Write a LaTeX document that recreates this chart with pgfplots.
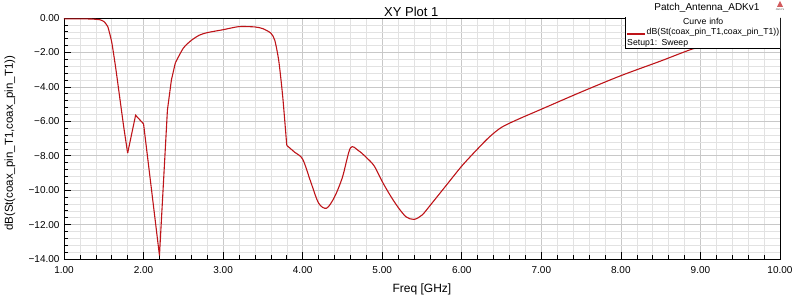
\documentclass[border=0pt]{standalone}
\usepackage{pgfplots}
\pgfplotsset{compat=1.18}
\usepackage{fontspec}
\setmainfont{Liberation Sans}
\definecolor{curvered}{RGB}{190,20,25}
\definecolor{majgrid}{RGB}{200,200,200}
\definecolor{mingrid}{RGB}{226,226,226}
\begin{document}
\begin{tikzpicture}
\begin{axis}[
  scale only axis,
  width=716pt, height=241pt,
  xmin=1, xmax=10, ymin=-14, ymax=0,
  xtick={1,2,...,10}, ytick={-14,-12,...,0},
  xticklabels={1.00,2.00,3.00,4.00,5.00,6.00,7.00,8.00,9.00,10.00},
  yticklabels={−14.00,−12.00,−10.00,−8.00,−6.00,−4.00,−2.00,0.00},
  minor x tick num=4, minor y tick num=4,
  grid=both,
  major grid style={majgrid, line width=0.6pt},
  minor grid style={mingrid, line width=0.5pt},
  axis line style={black, line width=0.8pt},
  tick style={black, line width=0.6pt},
  major tick length=7pt, minor tick length=4pt,
  xtick pos=bottom, ytick pos=left,
  xticklabel style={font=\fontsize{10}{11}\selectfont, yshift=-4pt},
  yticklabel style={font=\fontsize{10}{11}\selectfont, xshift=-1pt},
  xlabel={Freq [GHz]},
  ylabel={dB(St(coax\_pin\_T1,coax\_pin\_T1))},
  xlabel style={font=\fontsize{12}{13}\selectfont, at={(axis description cs:0.5,-0.125)}, anchor=center},
  ylabel style={font=\fontsize{11.5}{12}\selectfont, at={(axis description cs:-0.0755,0.48)}, anchor=center},
  title={XY Plot 1},
  title style={font=\fontsize{13}{14}\selectfont, at={(axis description cs:0.485,1.0)}, anchor=center, yshift=0pt},
  clip=true,
]
\addplot[curvered, line width=1.1pt, smooth, tension=0.3] coordinates {
(1.0,-0.05) (1.2,-0.05) (1.35,-0.06) (1.45,-0.1) (1.5,-0.2) (1.55,-0.5) (1.6,-1.4)
(1.65,-2.9) (1.7,-4.6) (1.75,-6.3) (1.8,-7.85)
};
\addplot[curvered, line width=1.1pt] coordinates {
(1.8,-7.85) (1.9,-5.65) (2.0,-6.15) (2.2,-13.8) (2.3,-5.35) (2.35,-3.6) (2.4,-2.6)
};
\addplot[curvered, line width=1.1pt, smooth, tension=0.4] coordinates {
(2.4,-2.6) (2.5,-1.75) (2.6,-1.3) (2.7,-1.0) (2.8,-0.85) (3.0,-0.68) (3.2,-0.5)
(3.4,-0.52) (3.5,-0.62) (3.6,-0.88) (3.65,-1.3) (3.7,-2.5) (3.75,-4.6) (3.8,-7.4)
};
\addplot[curvered, line width=1.1pt, smooth, tension=0.5] coordinates {
(3.8,-7.4) (3.9,-7.8) (4.0,-8.2) (4.1,-9.5) (4.2,-10.75) (4.3,-11.05) (4.4,-10.4)
(4.5,-9.25) (4.6,-7.55) (4.7,-7.7) (4.8,-8.1) (4.9,-8.6) (5.0,-9.5) (5.1,-10.3)
(5.2,-11.0) (5.3,-11.55) (5.4,-11.7) (5.5,-11.45) (5.6,-10.9) (5.8,-9.75)
(6.0,-8.6) (6.2,-7.6) (6.35,-6.9) (6.5,-6.35) (6.7,-5.9) (7.0,-5.3) (7.5,-4.3)
(8.0,-3.35) (8.5,-2.5) (8.9,-1.8) (9.2,-1.45) (9.6,-1.2) (10.0,-1.05)
};
\node[fill=white, draw=black, line width=0.7pt, anchor=north east, inner sep=1.5pt,
  align=left, font=\fontsize{8.7}{10.6}\selectfont, text width=152pt]
  at (rel axis cs:1.0015,1.0083)
  {\centering Curve info\par
   \raggedleft dB(St(coax\_pin\_T1,coax\_pin\_T1))\par
   \raggedright Setup1: Sweep};
\draw[curvered, line width=1.6pt] (rel axis cs:0.7865,0.9336) -- (rel axis cs:0.8115,0.9336);
\end{axis}
\node[anchor=east, font=\fontsize{10}{11}\selectfont] at ([xshift=-17pt,yshift=10pt]current axis.north east) {Patch\_Antenna\_ADKv1};
\fill[curvered!70] ([xshift=-3pt,yshift=11pt]current axis.north east) -- ++(3pt,6pt) -- ++(3pt,-6pt) -- cycle;
\node[font=\fontsize{2.5}{3}\selectfont, text=black!70] at ([xshift=0pt,yshift=8pt]current axis.north east) {ANSYS};
\pgfresetboundingbox
\path ([xshift=-64pt,yshift=-37pt]current axis.south west) rectangle ++(792pt,296pt);
\end{tikzpicture}
\end{document}
